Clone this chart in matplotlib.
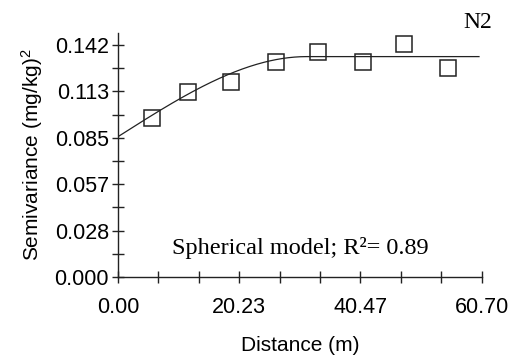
import numpy as np
import matplotlib
matplotlib.use("Agg")
import matplotlib.pyplot as plt

plt.rcParams['font.family'] = ['Liberation Sans', 'DejaVu Sans']
plt.rcParams['mathtext.fontset'] = 'custom'
plt.rcParams['mathtext.rm'] = 'Liberation Sans'
plt.rcParams['mathtext.it'] = 'Liberation Sans'

dist = [5.62, 11.73, 18.81, 26.37, 33.43, 40.84, 47.73, 55.13]
gamma = [0.0971, 0.1134, 0.1195, 0.1314, 0.1375, 0.1314, 0.1424, 0.1277]

# Parametres du modele spherique
nugget = 0.0859
sill = 0.1349
rang = 31.5
x_end = 60.25

xticks = [0.00, 20.23, 40.47, 60.70]
yticks = [0.000, 0.028, 0.057, 0.085, 0.113, 0.142]


def spherical(h, c0, c, a):
    h = np.asarray(h)
    r = np.where(h < a, 1.5 * h / a - 0.5 * (h / a) ** 3, 1.0)
    return c0 + (c - c0) * r


fig = plt.figure(figsize=(5.12, 3.56), dpi=100)
ax = fig.add_axes([0.2305, 0.2219, 0.7103, 0.6854])

h = np.linspace(0, x_end, 300)
ax.plot(h, spherical(h, nugget, sill, rang), color='#222222', lw=0.9)
ax.plot(dist, gamma, 's', ms=11.3, mfc='none', mec='#222222', mew=1.1)

ax.set_xlim(0, 60.70)
ax.set_ylim(0, 0.142 * 244 / 232)

xmaj = np.linspace(0, 60.70, 4)
ax.set_xticks(xmaj)
ax.set_xticklabels(["%.2f" % v for v in xticks])
ax.set_xticks(np.linspace(0, 60.70, 10), minor=True)
ymaj = np.linspace(0, 0.142, 6)
ax.set_yticks(ymaj)
ax.set_yticklabels(["%.3f" % v for v in yticks])
ax.set_yticks(np.linspace(0, 0.142, 11), minor=True)

for s in ['top', 'right']:
    ax.spines[s].set_visible(False)
for s in ['left', 'bottom']:
    ax.spines[s].set_linewidth(1.0)
    ax.spines[s].set_color('#222222')

ax.tick_params(which='both', direction='inout', length=9, width=1.0,
               color='#222222', labelsize=15.5, pad=2)
ax.tick_params(axis='x', which='both', pad=10)

ax.set_xlabel('Distance (m)', fontsize=15, labelpad=13)
ax.set_ylabel(r'Semivariance (mg/kg)$^2$', fontsize=15, labelpad=7)

ax.text(0.5, 0.12, 'Spherical model; R\u00b2= 0.89', transform=ax.transAxes,
        ha='center', va='center', fontsize=17.5, family='Liberation Serif')
fig.text(0.934, 0.938, 'N2', ha='center', va='center', fontsize=17,
         family='Liberation Serif')

fig.savefig('out.png', dpi=100)
